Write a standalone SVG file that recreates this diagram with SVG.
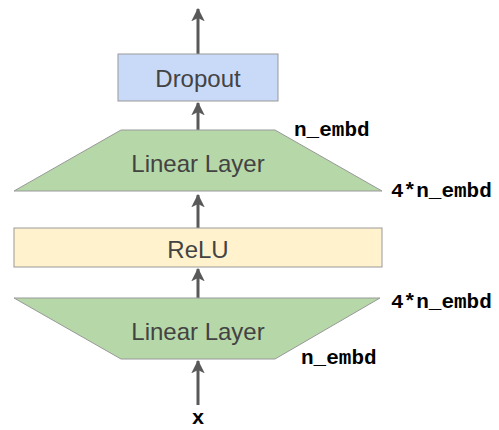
<svg xmlns="http://www.w3.org/2000/svg" width="499" height="430" viewBox="0 0 499 430">
<style>
.lbl{font-family:"Liberation Sans",Arial,sans-serif;fill:#434343;text-anchor:middle;font-size:24px}
.mono{font-family:"Liberation Mono","Courier New",monospace;font-weight:bold;font-size:21px;fill:#000}
.edge{stroke:#595959;stroke-width:3;fill:none;marker-end:url(#ah)}
.shape{stroke:#999;stroke-width:1}
</style>
<defs>
<marker id="ah" viewBox="0 0 12 12" refX="11" refY="6" markerWidth="4.5" markerHeight="4.5" orient="auto" markerUnits="strokeWidth">
<path d="M0,0 L12,6 L0,12 L3,6 Z" fill="#595959"/>
</marker>
</defs>
<rect width="499" height="430" fill="#fff"/>
<g id="connectors">
<line class="edge" x1="198" y1="405" x2="198" y2="361"/>
<line class="edge" x1="198" y1="298" x2="198" y2="269"/>
<line class="edge" x1="198" y1="228" x2="198" y2="195"/>
<line class="edge" x1="198" y1="130" x2="198" y2="103"/>
<line class="edge" x1="198" y1="54" x2="198" y2="9"/>
</g>
<g id="dropout">
<rect class="shape" x="118" y="54" width="160" height="47" fill="#c9daf8"/>
<text class="lbl" x="198" y="87">Dropout</text>
</g>
<g id="linear2">
<polygon class="shape" points="121,130 275,130 382,191 14,191" fill="#b6d7a8"/>
<text class="lbl" x="198" y="172">Linear Layer</text>
<text class="mono" x="294" y="136">n_embd</text>
<text class="mono" x="391" y="197">4*n_embd</text>
</g>
<g id="relu">
<rect class="shape" x="14" y="228" width="368" height="39" fill="#fff2cc"/>
<text class="lbl" x="198" y="258">ReLU</text>
</g>
<g id="linear1">
<polygon class="shape" points="14,298 380,298 275,359 121,359" fill="#b6d7a8"/>
<text class="lbl" x="198" y="340">Linear Layer</text>
<text class="mono" x="391" y="308">4*n_embd</text>
<text class="mono" x="301" y="364">n_embd</text>
</g>
<g id="x">
<text class="mono" x="198" y="424" text-anchor="middle" font-size="26">x</text>
</g>
</svg>
